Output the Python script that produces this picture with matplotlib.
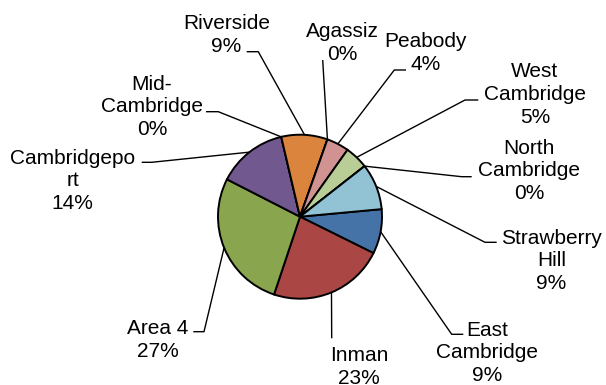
import numpy as np
import matplotlib
matplotlib.use("Agg")
import matplotlib.pyplot as plt

plt.rcParams['font.family'] = ['Liberation Sans', 'DejaVu Sans']

# data, in the order the slices run (clockwise)
names = ["East\nCambridge", "Inman", "Area 4", "Cambridgepo\nrt", "Mid-\nCambridge",
         "Riverside", "Agassiz", "Peabody", "West\nCambridge", "North\nCambridge",
         "Strawberry\nHill"]
shares = [8.8, 22.8, 27.4, 13.8, 0.0, 9.1, 0.0, 4.4, 4.6, 0.0, 9.1]
colors = ["#4572A7", "#AA4643", "#89A54E", "#71588F", "#4198AF", "#DB843D",
          "#93A9CF", "#D19392", "#B9CD96", "#A99BBD", "#92C3D4"]

# label layout in pixels (x center, first baseline) and leader hooks near the text
label_pos = [(487, 334.3), (359, 360), (158, 333.3), (72.5, 162.3), (152, 88.3),
             (226.6, 28.3), (342, 36), (425.5, 46.7), (535, 75.7), (529, 152.3),
             (551.5, 242.3)]
hooks = [[(463.3, 334.3), (451.7, 334.3)],
         [(331.7, 338.3)],
         [(193.3, 331.7), (204, 331.7)],
         [(141.7, 162.3), (151.7, 162.3)],
         [(206, 111.7), (218.3, 111.7)],
         [(246.7, 51.7), (258.3, 51.7)],
         [(322.7, 60)],
         [(406, 70), (394.3, 70)],
         [(478.3, 100), (465, 100)],
         [(471.7, 176.7), (461.7, 176.7)],
         [(496.7, 242.3), (485, 242.3)]]

W, H = 606, 385
cx, cy, r = 300, 216.7, 82
line_h = 23.5

fig = plt.figure(figsize=(W / 100, H / 100), dpi=100)
ax = fig.add_axes([0, 0, 1, 1])

wedges, _ = ax.pie(shares, colors=colors, startangle=90 - 84.7, counterclock=False,
                   center=(cx, H - cy), radius=r,
                   wedgeprops=dict(edgecolor="black", linewidth=1.4))
ax.set_xlim(0, W)
ax.set_ylim(0, H)
ax.set_aspect("auto")
ax.axis("off")

for w, name, v, (lx, ly), hk in zip(wedges, names, shares, label_pos, hooks):
    mid = np.deg2rad((w.theta1 + w.theta2) / 2)
    ex, ey = cx + r * np.cos(mid), (H - cy) + r * np.sin(mid)
    xs = [p[0] for p in hk] + [ex]
    ys = [H - p[1] for p in hk] + [ey]
    ax.plot(xs, ys, color="black", lw=1.0, solid_capstyle="butt", zorder=0)
    txt = f"{name}\n{v:.0f}%"
    n = txt.count("\n")
    ax.text(lx, H - (ly + n * line_h), txt, ha="center", va="baseline",
            fontsize=15, linespacing=1.26, color="black")

fig.savefig("out.png", dpi=100)
